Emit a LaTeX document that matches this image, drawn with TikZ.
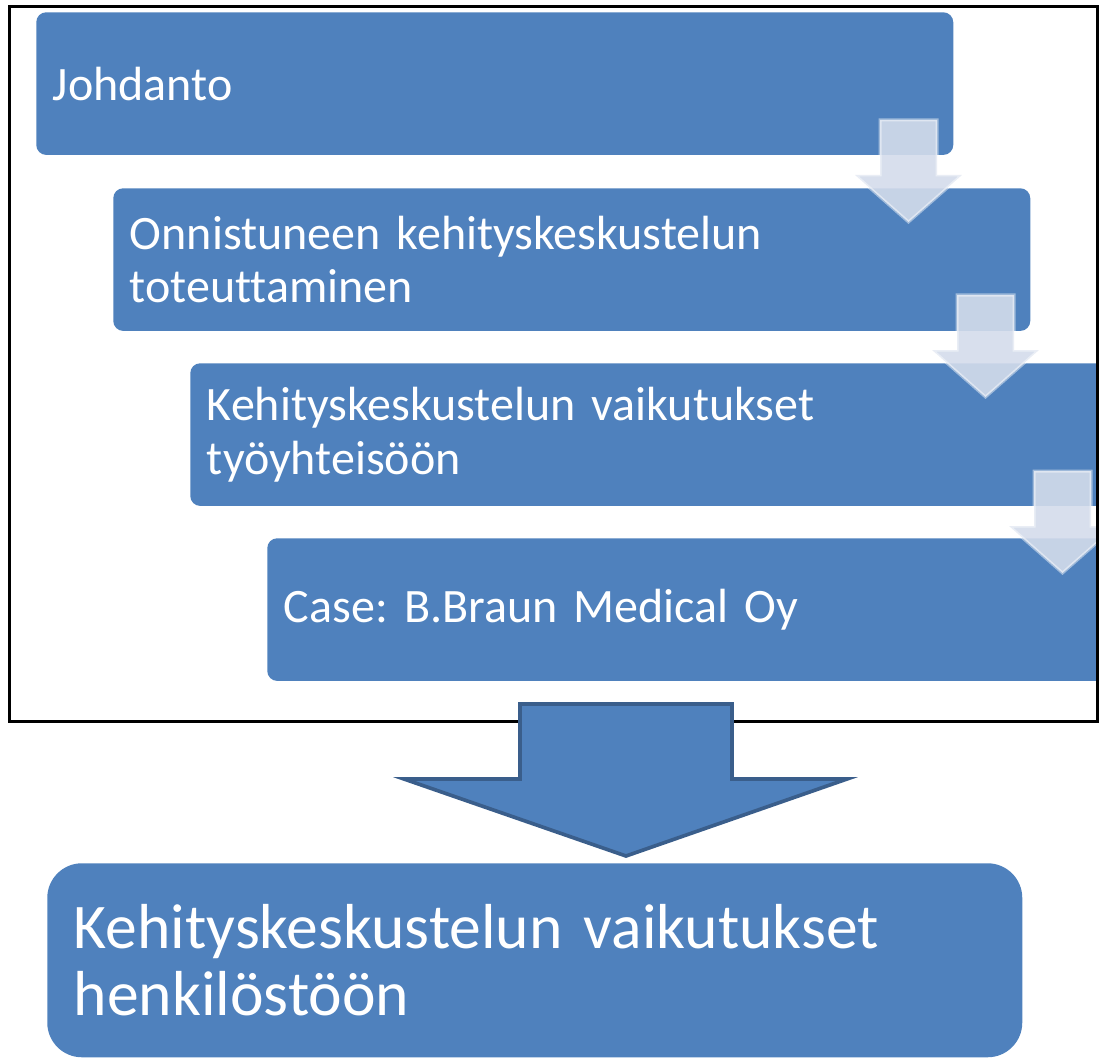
\documentclass[tikz,border=0pt]{standalone}
\usepackage{fontspec}
\setmainfont{Carlito}[Ligatures=NoCommon, WordSpace=0.85]
\frenchspacing
\definecolor{boxblue}{RGB}{79,129,189}
\definecolor{arrowedge}{RGB}{58,94,139}
\definecolor{paleblue}{RGB}{212,220,235}

\begin{document}
\begin{tikzpicture}[x=0.75pt,y=0.75pt,yscale=-1,xscale=1,
  stepbox/.style={fill=boxblue, rounded corners=7.5pt, anchor=north west, inner xsep=12.5pt, inner ysep=0pt,
    minimum width=687.75pt, minimum height=107pt, text width=662.75pt, align=left, text=white,
    font=\fontsize{36}{40}\selectfont},
  resultbox/.style={fill=boxblue, rounded corners=26pt, anchor=north west, inner xsep=20pt, inner ysep=0pt,
    minimum width=731.25pt, minimum height=145.5pt, text width=691.25pt, align=left, text=white,
    font=\fontsize{47.7}{50}\selectfont},
  steparrow/.style={fill=paleblue, fill opacity=0.9, draw=white, draw opacity=0.45, line width=2.25pt, line join=miter}]
\clip (0,0) rectangle (1099,1059);
% steps
\node (intro) [stepbox] at (36,12) {Johdanto};
\node (implement) [stepbox] at (113,188) {Onnistuneen kehityskeskustelun\\toteuttaminen};
\node (community) [stepbox] at (190,363) {Kehityskeskustelun vaikutukset\\työyhteisöön};
\node (casebox) [stepbox] at (267,538) {Case: B.Braun Medical Oy};
% small arrows between the steps
\draw [steparrow] (880,120) -- (937,120) -- (937,175) -- (962,175) -- (908.5,222) -- (855,175) -- (880,175) -- cycle ;
\draw [steparrow] (957,295) -- (1014,295) -- (1014,350) -- (1039,350) -- (985.5,397) -- (932,350) -- (957,350) -- cycle ;
\draw [steparrow] (1034,471) -- (1091,471) -- (1091,526) -- (1116,526) -- (1062.5,573) -- (1009,526) -- (1034,526) -- cycle ;
% frame
\draw [line width=2.25pt] (9,7) rectangle (1097,721);
% big arrow
\draw [fill=boxblue, draw=arrowedge, line width=2.75pt, line join=miter] (520,704) -- (732,704) -- (732,779) -- (847,779) -- (626,856) -- (404,779) -- (520,779) -- cycle ;
\node (staff) [resultbox] at (47,863) {Kehityskeskustelun vaikutukset\\henkilöstöön};
\end{tikzpicture}
\end{document}
